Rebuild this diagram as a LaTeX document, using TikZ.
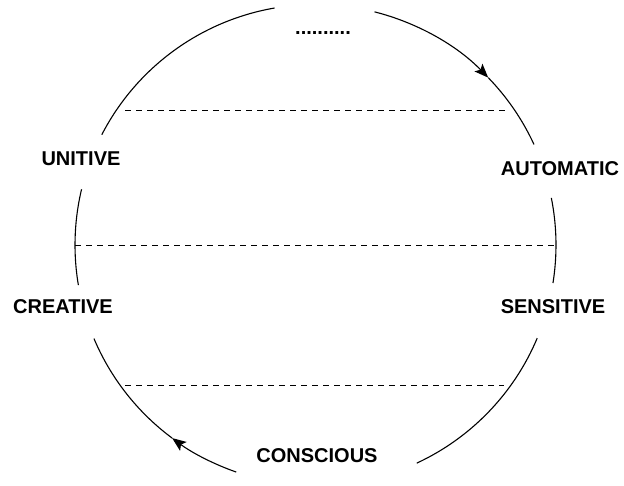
\documentclass[tikz,border=0pt]{standalone}
\usepackage{fontspec}
\setmainfont{Liberation Sans}
\usetikzlibrary{arrows.meta}
\begin{document}
\begin{tikzpicture}[x=1pt,y=1pt,
  ring/.style={line width=1.1pt},
  divider/.style={line width=0.9pt,dash pattern=on 6pt off 5pt},
  lbl/.style={anchor=base,inner sep=0pt,font=\fontsize{20}{24}\selectfont\bfseries},
  tip/.style={-{Stealth[length=14pt,width=11pt,inset=3pt]}}]
\useasboundingbox (0,0) rectangle (624,-486);
\coordinate (c) at (315.5,-245);
% circle segments
\draw[ring] ([shift={(99.8:240.5)}]c) arc[start angle=99.8,end angle=152.7,radius=240.5];
\draw[ring] ([shift={(166.6:240.5)}]c) arc[start angle=166.6,end angle=189.6,radius=240.5];
\draw[ring,tip] ([shift={(250.75:240.5)}]c) arc[start angle=250.75,end angle=233.4,radius=240.5];
\draw[ring] ([shift={(233.4:240.5)}]c) arc[start angle=233.4,end angle=202.9,radius=240.5];
\draw[ring] ([shift={(294.9:240.5)}]c) arc[start angle=294.9,end angle=337.2,radius=240.5];
\draw[ring] ([shift={(350.9:240.5)}]c) arc[start angle=350.9,end angle=371.3,radius=240.5];
\draw[ring,tip] ([shift={(75.8:240.5)}]c) arc[start angle=75.8,end angle=44.1,radius=240.5];
\draw[ring] ([shift={(44.1:240.5)}]c) arc[start angle=44.1,end angle=24.7,radius=240.5];
% dividers
\coordinate (d1a) at (125,-110); \coordinate (d1b) at (505,-110);
\coordinate (d2a) at (75,-245);  \coordinate (d2b) at (556,-245);
\coordinate (d3a) at (125,-385); \coordinate (d3b) at (504,-385);
\draw[divider] (d1a) -- (d1b);
\draw[divider] (d2a) -- (d2b);
\draw[divider] (d3a) -- (d3b);
% labels
\node[lbl] (dots) at (323,-35) {..........};
\node[lbl] (unitive) at (81,-166) {UNITIVE};
\node[lbl] (automatic) at (560,-176) {AUTOMATIC};
\node[lbl] (creative) at (63,-314) {CREATIVE};
\node[lbl] (sensitive) at (553,-314) {SENSITIVE};
\node[lbl] (conscious) at (317,-462) {CONSCIOUS};
\end{tikzpicture}
\end{document}
